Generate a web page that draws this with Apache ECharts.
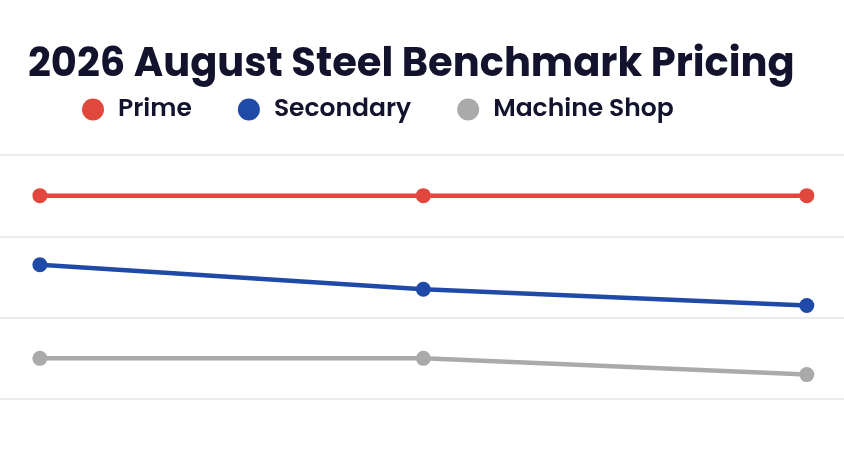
<!DOCTYPE html>
<html>
<head>
<meta charset="utf-8">
<script src="https://cdn.jsdelivr.net/npm/echarts@6/dist/echarts.min.js"></script>
<style>
html, body { margin: 0; padding: 0; background: #fff; }
#chart { width: 844px; height: 456px; }
</style>
</head>
<body>
<div id="chart"></div>
<script>
// values (axis labels are hidden, units arbitrary)
const categories = ['Jun', 'Jul', 'Aug'];
const prime = [50, 50, 50];
const secondary = [33, 27, 23];
const machineShop = [10, 10, 6];

const colors = ['#e0483e', '#1f4aa8', '#aaaaaa'];
const font = 'Poppins, Inter, "Noto Sans", sans-serif';

const myChart = echarts.init(document.getElementById('chart'));

// x as index so the grid lines can run the full width like the original
function line(name, data, color) {
    return {
        name: name,
        type: 'line',
        data: data.map((v, i) => [i, v]),
        symbol: 'circle',
        symbolSize: 15,
        lineStyle: { color: color, width: 4.5 },
        itemStyle: { color: color },
        emphasis: { disabled: true }
    };
}

const option = {
    animation: false,
    title: {
        text: '2026 August Steel Benchmark Pricing',
        left: 23,
        top: 41,
        textStyle: {
            fontFamily: font,
            fontSize: 40,
            fontWeight: 'bold',
            color: '#14132e'
        }
    },
    legend: {
        top: 92,
        left: 77,
        icon: 'circle',
        itemWidth: 22,
        itemHeight: 22,
        itemGap: 46,
        textStyle: {
            fontFamily: font,
            fontSize: 25,
            fontWeight: 600,
            color: '#14132e',
            padding: [0, 0, 0, 9]
        },
        data: ['Prime', 'Secondary', 'Machine Shop']
    },
    grid: {
        left: 0,
        right: 0,
        top: 155,
        bottom: 57
    },
    xAxis: {
        type: 'value',
        min: -0.104,
        max: categories.length - 1 + 0.097,
        axisLine: { show: false },
        axisTick: { show: false },
        axisLabel: { show: false },
        splitLine: { show: false }
    },
    yAxis: {
        type: 'value',
        min: 0,
        max: 60,
        interval: 20,
        axisLine: { show: false },
        axisTick: { show: false },
        axisLabel: { show: false },
        splitLine: { lineStyle: { color: '#e6e6e6', width: 1.5 } }
    },
    series: [
        line('Prime', prime, colors[0]),
        line('Secondary', secondary, colors[1]),
        line('Machine Shop', machineShop, colors[2])
    ]
};

myChart.setOption(option, true);
</script>
</body>
</html>
